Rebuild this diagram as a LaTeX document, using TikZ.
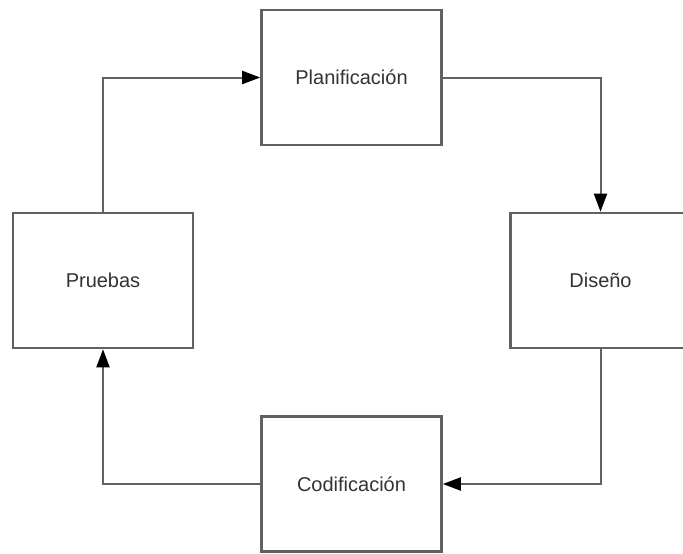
\documentclass[tikz,border=0pt]{standalone}
\usepackage{fontspec}
\setmainfont{Liberation Sans}
\usepackage{xcolor}
\usetikzlibrary{positioning,arrows.meta}
\definecolor{borde}{HTML}{616161}
\definecolor{texto}{HTML}{333333}
\begin{document}
\begin{tikzpicture}[x=1pt, y=-1pt]
	\tikzset{
		fase/.style={rectangle, draw=borde, line width=2.6pt, fill=white, minimum width=180pt, minimum height=135pt, inner sep=0pt, text=texto, font=\fontsize{20}{24}\selectfont},
		flecha/.style={draw=borde, line width=2pt, -{Triangle[length=18pt, width=13pt, color=black]}}
	}
	\useasboundingbox (0,0) rectangle (683,554);
	
	% Fases
	\node[fase] (plan) at (351.5,77.5) {Planificación};
	\node[fase] (dis) at (600.5,280.5) {Diseño};
	\node[fase] (prue) at (103,280.5) {Pruebas};
	\node[fase] (cod) at (351.5,484) {Codificación};
	
	% Flechas
	\draw[flecha] (prue.north) |- (plan.west);
	\draw[flecha] (plan.east) -| (dis.north);
	\draw[flecha] (dis.south) |- (cod.east);
	\draw[flecha] (cod.west) -| (prue.south);
\end{tikzpicture}
\end{document}
